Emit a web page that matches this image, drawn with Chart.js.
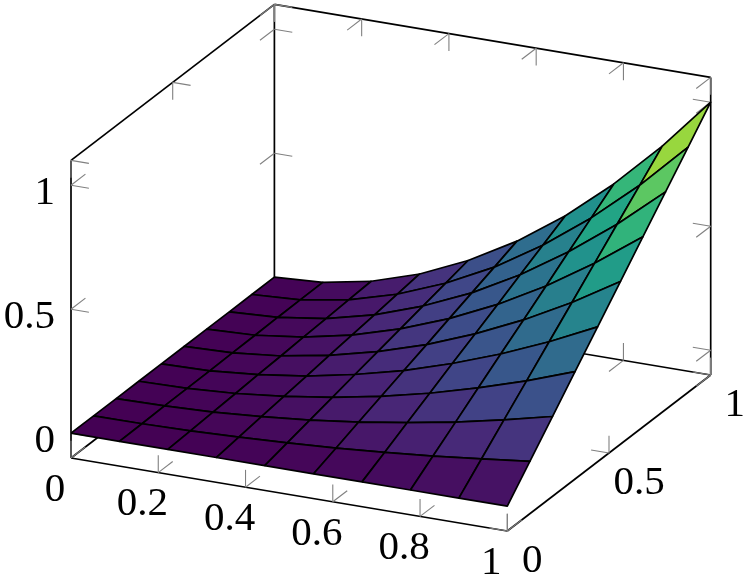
<!DOCTYPE html>
<html>
<head>
<meta charset="utf-8">
<title>Surface</title>
<script src="https://cdn.jsdelivr.net/npm/chart.js@4"></script>
<style>
html, body { margin: 0; padding: 0; background: #fff; }
canvas { display: block; }
</style>
</head>
<body>
<canvas id="surfaceChart" width="747" height="579"></canvas>
<script>
const xValues = [0, 0.111, 0.222, 0.333, 0.444, 0.556, 0.667, 0.778, 0.889, 1];
const yValues = [0, 0.111, 0.222, 0.333, 0.444, 0.556, 0.667, 0.778, 0.889, 1];
// one row per y value
const zRow0 = [0, 0, 0, 0, 0, 0, 0, 0, 0, 0];
const zRow1 = [0, 0.001, 0.005, 0.012, 0.022, 0.034, 0.049, 0.067, 0.088, 0.111];
const zRow2 = [0, 0.003, 0.011, 0.025, 0.044, 0.069, 0.099, 0.134, 0.176, 0.222];
const zRow3 = [0, 0.004, 0.016, 0.037, 0.066, 0.103, 0.148, 0.202, 0.263, 0.333];
const zRow4 = [0, 0.005, 0.022, 0.049, 0.088, 0.137, 0.198, 0.269, 0.351, 0.444];
const zRow5 = [0, 0.007, 0.027, 0.062, 0.110, 0.171, 0.247, 0.336, 0.439, 0.556];
const zRow6 = [0, 0.008, 0.033, 0.074, 0.132, 0.206, 0.296, 0.403, 0.527, 0.667];
const zRow7 = [0, 0.010, 0.038, 0.086, 0.154, 0.240, 0.346, 0.471, 0.615, 0.778];
const zRow8 = [0, 0.011, 0.044, 0.099, 0.176, 0.274, 0.395, 0.538, 0.702, 0.889];
const zRow9 = [0, 0.012, 0.049, 0.111, 0.198, 0.309, 0.444, 0.605, 0.790, 1];
const zRows = [zRow0, zRow1, zRow2, zRow3, zRow4, zRow5, zRow6, zRow7, zRow8, zRow9];

const xTicks = [0, 0.2, 0.4, 0.6, 0.8, 1];
const yTicks = [0, 0.5, 1];
const zTicks = [0, 0.5, 1];
const xTickLabels = ['0', '0.2', '0.4', '0.6', '0.8', '1'];
const yTickLabels = ['0', '0.5', '1'];
const zTickLabels = ['0', '0.5', '1'];

const xMin = 0, xMax = 1, yMin = 0, yMax = 1, zMin = -0.1, zMax = 1.1;

// viridis anchors, 0 to 1 in even steps
const viridis = [[68,1,84],[72,36,117],[65,68,135],[53,95,141],[42,120,142],[33,145,140],[34,168,132],[67,191,113],[122,209,81],[189,223,38],[253,231,37]];

// view of the box on the page
const origin = { x: 71, y: 458 };
const xAxisVec = { x: 436.3, y: 73 };
const yAxisVec = { x: 203.4, y: -156 };
const zUnit = 248;

function project(x, y, z) {
    return {
        x: origin.x + x * xAxisVec.x + y * yAxisVec.x,
        y: origin.y + x * xAxisVec.y + y * yAxisVec.y - (z - zMin) * zUnit
    };
}

function colorAt(v) {
    const t = Math.min(0.9999, Math.max(0, v)) * (viridis.length - 1);
    const i = Math.floor(t), f = t - i;
    const c = viridis[i].map((a, k) => Math.round(a + (viridis[i + 1][k] - a) * f));
    return 'rgb(' + c.join(',') + ')';
}

const datasets = [];
const lineWidth = 1.7;

function addLine(a, b, color, width) {
    datasets.push({
        data: [project(a[0], a[1], a[2]), project(b[0], b[1], b[2])],
        showLine: true, fill: false, borderColor: color, borderWidth: width,
        pointRadius: 0, clip: false
    });
}

// box edges
const boxColor = '#000';
addLine([xMin, yMin, zMin], [xMax, yMin, zMin], boxColor, lineWidth);
addLine([xMax, yMin, zMin], [xMax, yMax, zMin], boxColor, lineWidth);
addLine([xMin, yMin, zMin], [xMin, yMax, zMin], boxColor, lineWidth);
addLine([xMin, yMax, zMin], [xMax, yMax, zMin], boxColor, lineWidth);
addLine([xMin, yMin, zMin], [xMin, yMin, zMax], boxColor, lineWidth);
addLine([xMax, yMax, zMin], [xMax, yMax, zMax], boxColor, lineWidth);
addLine([xMin, yMax, zMin], [xMin, yMax, zMax], boxColor, lineWidth);
addLine([xMin, yMin, zMax], [xMin, yMax, zMax], boxColor, lineWidth);
addLine([xMin, yMax, zMax], [xMax, yMax, zMax], boxColor, lineWidth);

// tick marks are gray and lie in the two faces next to each edge
const tickColor = '#808080';
const xTickLen = 0.041, yTickLen = 0.071, zTickLen = 0.07;
function addTick(p, dx, dy, dz) {
    addLine(p, [p[0] + dx, p[1] + dy, p[2] + dz], tickColor, 1.1);
}
xTicks.forEach(t => {
    addTick([t, yMin, zMin], 0, yTickLen, 0);
    addTick([t, yMin, zMin], 0, 0, zTickLen);
    addTick([t, yMax, zMin], 0, -yTickLen, 0);
    addTick([t, yMax, zMin], 0, 0, zTickLen);
    addTick([t, yMax, zMax], 0, -yTickLen, 0);
    addTick([t, yMax, zMax], 0, 0, -zTickLen);
});
yTicks.forEach(t => {
    addTick([xMax, t, zMin], -xTickLen, 0, 0);
    addTick([xMax, t, zMin], 0, 0, zTickLen);
    addTick([xMin, t, zMax], xTickLen, 0, 0);
    addTick([xMin, t, zMax], 0, 0, -zTickLen);
});
zTicks.forEach(t => {
    addTick([xMin, yMin, t], xTickLen, 0, 0);
    addTick([xMin, yMin, t], 0, yTickLen, 0);
    addTick([xMax, yMax, t], -xTickLen, 0, 0);
    addTick([xMax, yMax, t], 0, -yTickLen, 0);
    addTick([xMin, yMax, t], xTickLen, 0, 0);
    addTick([xMin, yMax, t], 0, -yTickLen, 0);
});

// surface faces, back row first
for (let j = yValues.length - 2; j >= 0; j--) {
    for (let i = 0; i < xValues.length - 1; i++) {
        const z00 = zRows[j][i], z10 = zRows[j][i + 1], z11 = zRows[j + 1][i + 1], z01 = zRows[j + 1][i];
        const a = project(xValues[i], yValues[j], z00);
        datasets.push({
            data: [a,
                project(xValues[i + 1], yValues[j], z10),
                project(xValues[i + 1], yValues[j + 1], z11),
                project(xValues[i], yValues[j + 1], z01),
                a],
            showLine: true,
            fill: 'shape',
            backgroundColor: colorAt((z00 + z10 + z11 + z01) / 4),
            borderColor: '#000',
            borderWidth: lineWidth,
            borderJoinStyle: 'round',
            pointRadius: 0,
            clip: false
        });
    }
}

// Chart.js paints the first dataset last
datasets.reverse();

const tickLabelPlugin = {
    id: 'tickLabels',
    afterDraw(chart) {
        const ctx = chart.ctx;
        const sx = chart.scales.x, sy = chart.scales.y;
        ctx.save();
        ctx.fillStyle = '#000';
        ctx.font = '41px "Liberation Serif"';
        ctx.textBaseline = 'middle';
        ctx.textAlign = 'center';
        xTicks.forEach((t, i) => {
            const p = project(t, yMin, zMin);
            ctx.fillText(xTickLabels[i], sx.getPixelForValue(p.x) - 16, sy.getPixelForValue(p.y) + 32);
        });
        const yLabelDx = [25, 30, 24];
        yTicks.forEach((t, i) => {
            const p = project(xMax, t, zMin);
            ctx.fillText(yTickLabels[i], sx.getPixelForValue(p.x) + yLabelDx[i], sy.getPixelForValue(p.y) + 30);
        });
        ctx.textAlign = 'right';
        zTicks.forEach((t, i) => {
            const p = project(xMin, yMin, t);
            ctx.fillText(zTickLabels[i], sx.getPixelForValue(p.x) - 16, sy.getPixelForValue(p.y) + 8);
        });
        ctx.restore();
    }
};

new Chart(document.getElementById('surfaceChart').getContext('2d'), {
    type: 'scatter',
    data: { datasets: datasets },
    plugins: [tickLabelPlugin],
    options: {
        responsive: false,
        animation: false,
        devicePixelRatio: 1,
        layout: { padding: 0 },
        plugins: { legend: { display: false }, tooltip: { enabled: false } },
        scales: {
            x: { type: 'linear', min: 0, max: 747, display: false },
            y: { type: 'linear', min: 0, max: 579, reverse: true, display: false }
        }
    }
});
</script>
</body>
</html>
